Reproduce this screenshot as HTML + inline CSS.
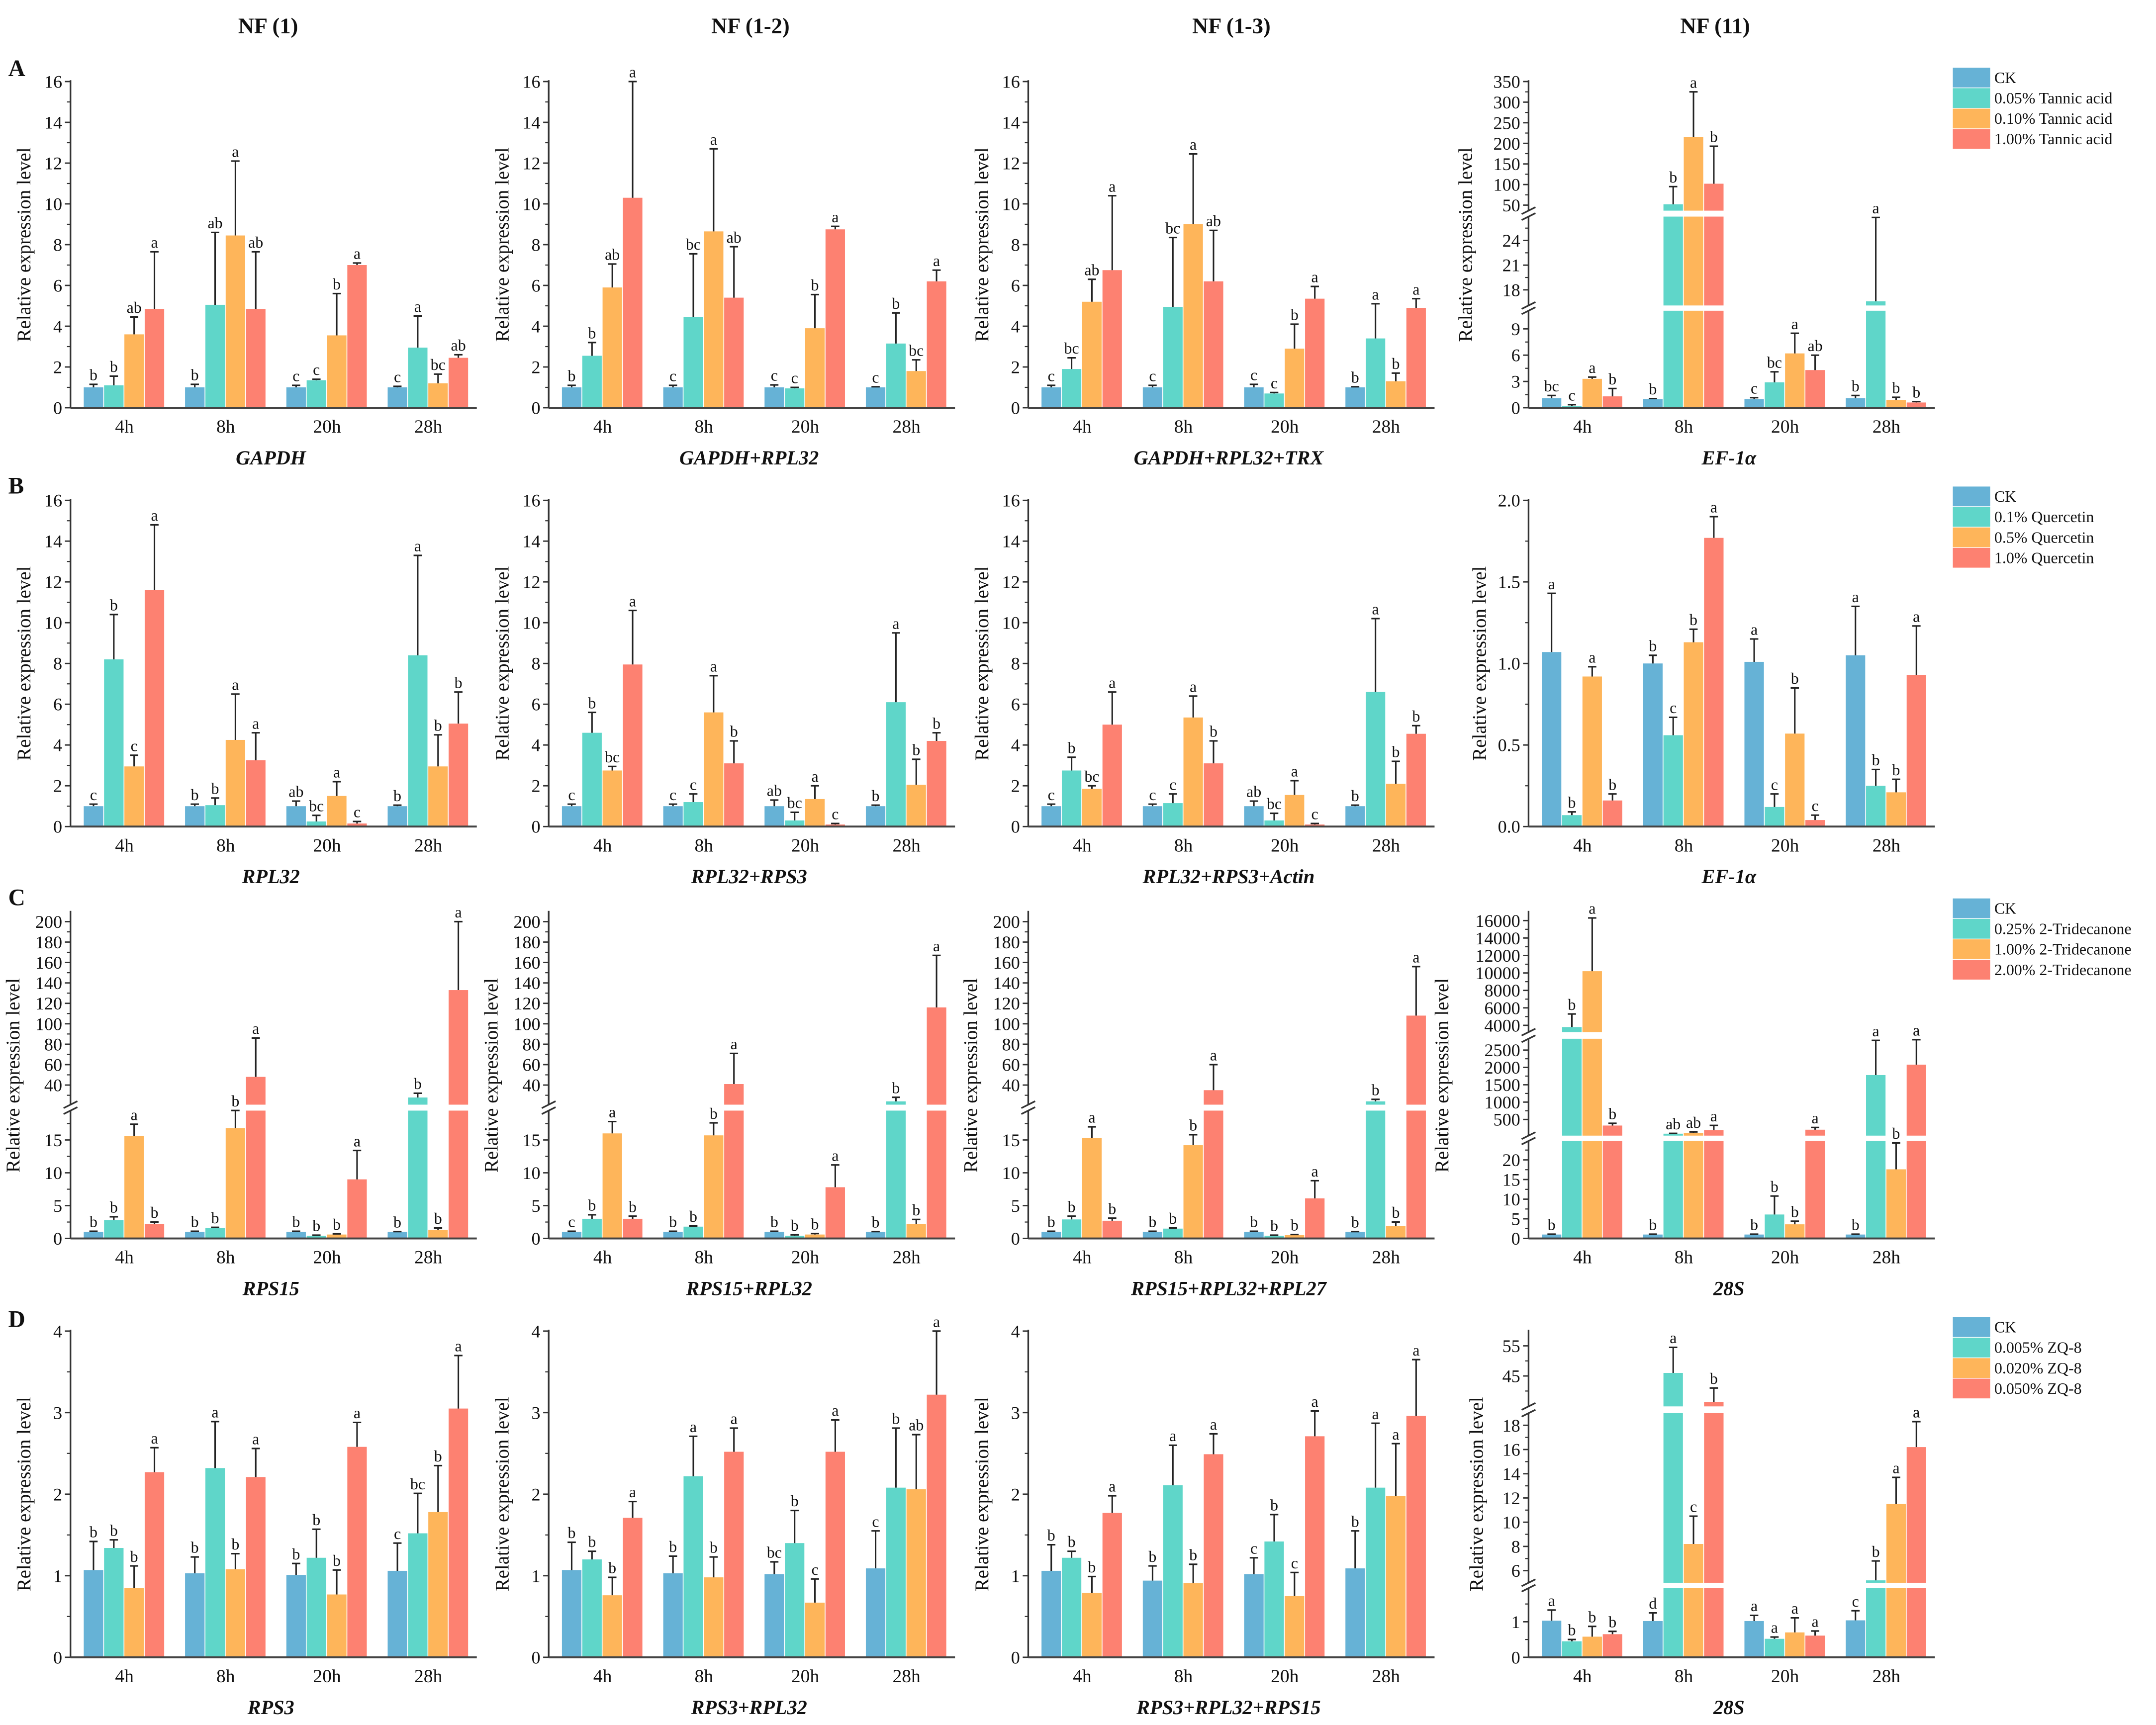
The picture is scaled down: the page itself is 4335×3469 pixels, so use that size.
<!DOCTYPE html>
<html><head><meta charset="utf-8">
<style>
html,body{margin:0;padding:0;background:#fff;}
svg{display:block;}
text{font-family:"Liberation Serif",serif;fill:#111;}
</style></head>
<body>
<svg id="fig" xmlns="http://www.w3.org/2000/svg" width="4335" height="3469" viewBox="0 0 1560 1248" preserveAspectRatio="none">
<rect x="0" y="0" width="1560" height="1248" fill="#fff"/>
<text x="194" y="24" font-size="16" font-weight="bold" text-anchor="middle">NF (1)</text>
<text x="543" y="24" font-size="16" font-weight="bold" text-anchor="middle">NF (1-2)</text>
<text x="891" y="24" font-size="16" font-weight="bold" text-anchor="middle">NF (1-3)</text>
<text x="1241" y="24" font-size="16" font-weight="bold" text-anchor="middle">NF (11)</text>
<text x="6" y="55" font-size="17" font-weight="bold">A</text>
<text x="6" y="357" font-size="17" font-weight="bold">B</text>
<text x="6" y="655" font-size="17" font-weight="bold">C</text>
<text x="6" y="960" font-size="17" font-weight="bold">D</text>
</svg>
<script>
const categories=['4h','8h','20h','28h'];
const colors=['#66b2d6','#5fd6c9','#feb55a','#fd8171'];
const legendA=['CK','0.05% Tannic acid','0.10% Tannic acid','1.00% Tannic acid'];
const legendB=['CK','0.1% Quercetin','0.5% Quercetin','1.0% Quercetin'];
const legendC=['CK','0.25% 2-Tridecanone','1.00% 2-Tridecanone','2.00% 2-Tridecanone'];
const legendD=['CK','0.005% ZQ-8','0.020% ZQ-8','0.050% ZQ-8'];

const a1Mean=[[1.0,1.1,3.6,4.85],[1.0,5.05,8.45,4.85],[1.0,1.35,3.55,7.0],[1.0,2.95,1.2,2.45]];
const a1Sd=[[0.15,0.45,0.85,2.8],[0.15,3.55,3.65,2.8],[0.1,0.05,2.05,0.1],[0.05,1.55,0.45,0.15]];
const a1Sig=[['b','b','ab','a'],['b','ab','a','ab'],['c','c','b','a'],['c','a','bc','ab']];
const a2Mean=[[1.0,2.55,5.9,10.3],[1.0,4.45,8.65,5.4],[1.0,0.95,3.9,8.75],[1.0,3.15,1.8,6.2]];
const a2Sd=[[0.1,0.65,1.15,5.7],[0.1,3.1,4.05,2.5],[0.12,0.05,1.65,0.15],[0.03,1.5,0.55,0.55]];
const a2Sig=[['b','b','ab','a'],['c','bc','a','ab'],['c','c','b','a'],['c','b','bc','a']];
const a3Mean=[[1.0,1.9,5.2,6.75],[1.0,4.95,9.0,6.2],[1.0,0.7,2.9,5.35],[1.0,3.4,1.3,4.9]];
const a3Sd=[[0.1,0.55,1.1,3.65],[0.1,3.4,3.45,2.5],[0.15,0.05,1.2,0.6],[0.03,1.7,0.4,0.45]];
const a3Sig=[['c','bc','ab','a'],['c','bc','a','ab'],['c','c','b','a'],['b','a','b','a']];
const a4Mean=[[1.1,0.2,3.3,1.3],[1.0,52,215,102],[1.0,2.9,6.2,4.3],[1.1,16.6,0.9,0.6]];
const a4Sd=[[0.3,0.15,0.2,0.9],[0.05,43,110,91],[0.15,1.2,2.3,1.7],[0.3,10.2,0.3,0.1]];
const a4Sig=[['bc','c','a','b'],['b','b','a','b'],['c','bc','a','ab'],['b','a','b','b']];

const b1Mean=[[1.0,8.2,2.95,11.6],[1.0,1.05,4.25,3.25],[1.0,0.25,1.5,0.15],[1.0,8.4,2.95,5.05]];
const b1Sd=[[0.1,2.2,0.55,3.2],[0.1,0.35,2.25,1.35],[0.25,0.3,0.7,0.1],[0.05,4.9,1.55,1.55]];
const b1Sig=[['c','b','c','a'],['b','b','a','a'],['ab','bc','a','c'],['b','a','b','b']];
const b2Mean=[[1.0,4.6,2.75,7.95],[1.0,1.2,5.6,3.1],[1.0,0.3,1.35,0.1],[1.0,6.1,2.05,4.2]];
const b2Sd=[[0.1,1.0,0.2,2.65],[0.1,0.4,1.8,1.1],[0.3,0.4,0.65,0.05],[0.05,3.4,1.25,0.4]];
const b2Sig=[['c','b','bc','a'],['c','c','a','b'],['ab','bc','a','c'],['b','a','b','b']];
const b3Mean=[[1.0,2.75,1.85,5.0],[1.0,1.15,5.35,3.1],[1.0,0.3,1.55,0.1],[1.0,6.6,2.1,4.55]];
const b3Sd=[[0.1,0.65,0.15,1.6],[0.1,0.45,1.05,1.1],[0.25,0.35,0.7,0.05],[0.05,3.6,1.1,0.4]];
const b3Sig=[['c','b','bc','a'],['c','c','a','b'],['ab','bc','a','c'],['b','a','b','b']];
const b4Mean=[[1.07,0.07,0.92,0.16],[1.0,0.56,1.13,1.77],[1.01,0.12,0.57,0.04],[1.05,0.25,0.21,0.93]];
const b4Sd=[[0.36,0.02,0.06,0.04],[0.05,0.11,0.08,0.13],[0.14,0.08,0.28,0.03],[0.3,0.1,0.08,0.3]];
const b4Sig=[['a','b','a','b'],['b','c','b','a'],['a','c','b','c'],['a','b','b','a']];

const c1Mean=[[1.0,2.8,15.6,2.2],[1.0,1.6,16.8,48],[1.0,0.4,0.6,9.0],[1.0,27.8,1.3,133]];
const c1Sd=[[0.1,0.5,1.8,0.3],[0.1,0.1,2.7,38],[0.1,0.1,0.1,4.4],[0.05,4.2,0.3,67]];
const c1Sig=[['b','b','a','b'],['b','b','b','a'],['b','b','b','a'],['b','b','b','a']];
const c2Mean=[[1.0,3.0,16.0,3.0],[1.0,1.8,15.7,41],[1.0,0.4,0.6,7.8],[1.0,24,2.2,116]];
const c2Sd=[[0.1,0.6,1.8,0.4],[0.1,0.1,1.9,30],[0.1,0.15,0.15,3.4],[0.05,4,0.7,51]];
const c2Sig=[['c','b','a','b'],['b','b','b','a'],['b','b','b','a'],['b','b','b','a']];
const c3Mean=[[1.0,2.9,15.3,2.7],[1.0,1.5,14.2,35],[1.0,0.4,0.5,6.1],[1.0,24,1.9,108]];
const c3Sd=[[0.1,0.5,1.7,0.4],[0.1,0.1,1.6,25],[0.1,0.1,0.1,2.7],[0.05,2,0.6,48]];
const c3Sig=[['b','b','a','b'],['b','b','b','a'],['b','b','b','a'],['b','b','b','a']];
const c4Mean=[[1.0,3800,10200,325],[1.0,90,115,190],[1.0,6.1,3.6,205],[1.0,1780,17.6,2080]];
const c4Sd=[[0.1,1500,6100,65],[0.1,10,25,140],[0.1,4.7,0.8,65],[0.1,1000,6.7,720]];
const c4Sig=[['b','b','a','b'],['b','ab','ab','a'],['b','b','b','a'],['b','a','b','a']];

const d1Mean=[[1.07,1.34,0.85,2.27],[1.03,2.32,1.08,2.21],[1.01,1.22,0.77,2.58],[1.06,1.52,1.78,3.05]];
const d1Sd=[[0.35,0.1,0.27,0.3],[0.2,0.57,0.19,0.35],[0.14,0.35,0.3,0.3],[0.34,0.49,0.57,0.65]];
const d1Sig=[['b','b','b','a'],['b','a','b','a'],['b','b','b','a'],['c','bc','b','a']];
const d2Mean=[[1.07,1.2,0.76,1.71],[1.03,2.22,0.98,2.52],[1.02,1.4,0.67,2.52],[1.09,2.08,2.06,3.22]];
const d2Sd=[[0.34,0.1,0.22,0.2],[0.21,0.49,0.25,0.29],[0.15,0.4,0.29,0.39],[0.46,0.73,0.67,0.78]];
const d2Sig=[['b','b','b','a'],['b','a','b','a'],['bc','b','c','a'],['c','b','ab','a']];
const d3Mean=[[1.06,1.22,0.79,1.77],[0.94,2.11,0.91,2.49],[1.02,1.42,0.75,2.71],[1.09,2.08,1.98,2.96]];
const d3Sd=[[0.32,0.08,0.2,0.21],[0.18,0.49,0.23,0.25],[0.2,0.33,0.29,0.31],[0.46,0.79,0.64,0.69]];
const d3Sig=[['b','b','b','a'],['b','a','b','a'],['c','b','c','a'],['b','a','a','a']];
const d4Mean=[[1.03,0.45,0.58,0.65],[1.02,46,8.2,36.4],[1.02,0.52,0.7,0.61],[1.04,5.2,11.5,16.2]];
const d4Sd=[[0.3,0.05,0.29,0.08],[0.23,8.5,2.3,4.6],[0.16,0.05,0.41,0.13],[0.27,1.6,2.2,2.1]];
const d4Sig=[['a','b','b','b'],['d','a','c','b'],['a','a','a','a'],['c','b','a','a']];

const ticks16=[0,2,4,6,8,10,12,14,16];
const minor16=[1,3,5,7,9,11,13,15];
const ticks4=[0,1,2,3,4];
const minor4=[0.5,1.5,2.5,3.5];
const ticks2=[0,0.5,1.0,1.5,2.0];
const labels2=['0.0','0.5','1.0','1.5','2.0'];
const minor2=[0.25,0.75,1.25,1.75];
const ticksA4=[0,3,6,9,18,21,24,50,100,150,200,250,300,350];
const minorA4=[1.5,4.5,7.5,19.5,22.5,25.5,75,125,175,225,275,325];
const ticksC=[0,5,10,15,40,60,80,100,120,140,160,180,200];
const minorC=[2.5,7.5,12.5,17.5,30,50,70,90,110,130,150,170,190];
const ticksC4=[0,5,10,15,20,500,1000,1500,2000,2500,4000,6000,8000,10000,12000,14000,16000];
const minorC4=[2.5,7.5,12.5,17.5,22.5,750,1250,1750,2250,5000,7000,9000,11000,13000,15000];
const ticksD4=[0,1,6,8,10,12,14,16,18,45,55];
const minorD4=[0.5,1.5,7,9,11,13,15,17,40,50];

const SVGNS='http://www.w3.org/2000/svg';
const fig=document.getElementById('fig');
function mk(tag,attrs,parent){const e=document.createElementNS(SVGNS,tag);for(const k in attrs)e.setAttribute(k,attrs[k]);(parent||fig).appendChild(e);return e;}

const rowBase=[295,598,896,1199];
const colAxis=[51,397,744,1106];
const PW=294, H=236;
const lin=(v1)=>[{v0:0,v1:v1,p0:0,p1:236}];
const segC=[{v0:0,v1:19.47,p0:0,p1:92.5},{v0:20.8,v1:210,p0:96.8,p1:236.6}];
const segA4=[{v0:0,v1:11.07,p0:0,p1:70.2},{v0:16.1,v1:26.9,p0:74,p1:138.3},{v0:36.6,v1:350,p0:142.6,p1:236}];
const segC4=[{v0:0,v1:24.8,p0:0,p1:70.5},{v0:34,v1:2827,p0:74.4,p1:144.5},{v0:3223,v1:17000,p0:149.3,p1:236.3}];
const segD4=[{v0:0,v1:1.946,p0:0,p1:50},{v0:5.0,v1:19.0,p0:53.9,p1:176.6},{v0:34.9,v1:59.9,p0:181.5,p1:236}];

function scaleOf(segs){
  return function(v){
    for(let i=0;i<segs.length;i++){
      const s=segs[i];
      if(v<=s.v1||i===segs.length-1){
        if(v<s.v0&&i>0){const p=segs[i-1];return p.p1+(v-p.v1)/(s.v0-p.v1)*(s.p0-p.p1);}
        return s.p0+(v-s.v0)/(s.v1-s.v0)*(s.p1-s.p0);
      }
    }
  };
}

const panels=[
 {r:0,c:0,gene:'GAPDH',mean:a1Mean,sd:a1Sd,sig:a1Sig,seg:lin(16),ticks:ticks16,minor:minor16,tOff:29},
 {r:0,c:1,gene:'GAPDH+RPL32',mean:a2Mean,sd:a2Sd,sig:a2Sig,seg:lin(16),ticks:ticks16,minor:minor16,tOff:29},
 {r:0,c:2,gene:'GAPDH+RPL32+TRX',mean:a3Mean,sd:a3Sd,sig:a3Sig,seg:lin(16),ticks:ticks16,minor:minor16,tOff:29},
 {r:0,c:3,gene:'EF-1α',mean:a4Mean,sd:a4Sd,sig:a4Sig,seg:segA4,ticks:ticksA4,minor:minorA4,tOff:41,legend:legendA},
 {r:1,c:0,gene:'RPL32',mean:b1Mean,sd:b1Sd,sig:b1Sig,seg:lin(16),ticks:ticks16,minor:minor16,tOff:29},
 {r:1,c:1,gene:'RPL32+RPS3',mean:b2Mean,sd:b2Sd,sig:b2Sig,seg:lin(16),ticks:ticks16,minor:minor16,tOff:29},
 {r:1,c:2,gene:'RPL32+RPS3+Actin',mean:b3Mean,sd:b3Sd,sig:b3Sig,seg:lin(16),ticks:ticks16,minor:minor16,tOff:29},
 {r:1,c:3,gene:'EF-1α',mean:b4Mean,sd:b4Sd,sig:b4Sig,seg:lin(2),ticks:ticks2,labels:labels2,minor:minor2,tOff:31,legend:legendB},
 {r:2,c:0,gene:'RPS15',mean:c1Mean,sd:c1Sd,sig:c1Sig,seg:segC,ticks:ticksC,minor:minorC,tOff:37},
 {r:2,c:1,gene:'RPS15+RPL32',mean:c2Mean,sd:c2Sd,sig:c2Sig,seg:segC,ticks:ticksC,minor:minorC,tOff:37},
 {r:2,c:2,gene:'RPS15+RPL32+RPL27',mean:c3Mean,sd:c3Sd,sig:c3Sig,seg:segC,ticks:ticksC,minor:minorC,tOff:37},
 {r:2,c:3,gene:'28S',mean:c4Mean,sd:c4Sd,sig:c4Sig,seg:segC4,ticks:ticksC4,minor:minorC4,tOff:58,legend:legendC},
 {r:3,c:0,gene:'RPS3',mean:d1Mean,sd:d1Sd,sig:d1Sig,seg:lin(4),ticks:ticks4,minor:minor4,tOff:29},
 {r:3,c:1,gene:'RPS3+RPL32',mean:d2Mean,sd:d2Sd,sig:d2Sig,seg:lin(4),ticks:ticks4,minor:minor4,tOff:29},
 {r:3,c:2,gene:'RPS3+RPL32+RPS15',mean:d3Mean,sd:d3Sd,sig:d3Sig,seg:lin(4),ticks:ticks4,minor:minor4,tOff:29},
 {r:3,c:3,gene:'28S',mean:d4Mean,sd:d4Sd,sig:d4Sig,seg:segD4,ticks:ticksD4,minor:minorD4,tOff:33,legend:legendD}
];

panels.forEach((P)=>{
  const ax=colAxis[P.c], base=rowBase[P.r];
  const sc=scaleOf(P.seg);
  const y=(v)=>base-sc(v);
  const g=mk('g',{});
  
  
  const gw=73.3, bw=14.7;
  const cx=(i)=>ax+39+gw*i;
  // bars
  categories.forEach((cat,i)=>{
    for(let s=0;s<4;s++){
      const v=P.mean[i][s];
      const x=cx(i)+(s-2)*bw;
      const r=mk('rect',{x:x,y:y(v),width:bw-0.6,height:Math.max(0,base-y(v)),fill:colors[s]},g);
      
      
    }
  });
  // break gaps
  for(let k=0;k<P.seg.length-1;k++){
    const top=base-P.seg[k+1].p0, bot=base-P.seg[k].p1;
    const gp=mk('rect',{x:ax+1,y:top,width:PW-1,height:bot-top,fill:'#fff'},g);
    
    
  }
  // error bars + letters
  categories.forEach((cat,i)=>{
    for(let s=0;s<4;s++){
      const v=P.mean[i][s], e=P.sd[i][s];
      const xm=cx(i)+(s-1.5)*bw-0.3;
      const yt=y(v+e);
      const l=mk('path',{d:`M${xm},${y(v)}V${yt}M${xm-3},${yt}H${xm+3}`,stroke:'#222','stroke-width':1.1,fill:'none'},g);
      
      
      const t=mk('text',{x:xm,y:yt-3,'font-size':11.5,'text-anchor':'middle'},g);
      t.textContent=P.sig[i][s];
      
      
    }
    const xl=mk('text',{x:cx(i),y:base+18,'font-size':13.5,'text-anchor':'middle'},g);
    xl.textContent=cat;
    
    
  });
  // y axis segments
  P.seg.forEach((s,k)=>{
    const top=(k===P.seg.length-1)?base-H-1:base-s.p1;
    const a=mk('line',{x1:ax,y1:base-s.p0,x2:ax,y2:top,stroke:'#333','stroke-width':1.2},g);
    
    
    if(k<P.seg.length-1){
      [base-s.p1,base-P.seg[k+1].p0].forEach(yy=>{
        const b=mk('line',{x1:ax-5,y1:yy+2.5,x2:ax+5,y2:yy-2.5,stroke:'#333','stroke-width':1.2},g);
        
        
      });
    }
  });
  const xa=mk('line',{x1:ax,y1:base,x2:ax+PW,y2:base,stroke:'#444','stroke-width':1.4},g);
  
  
  P.ticks.forEach((v,k)=>{
    const yy=y(v);
    const tk=mk('line',{x1:ax-4,y1:yy,x2:ax,y2:yy,stroke:'#333','stroke-width':1},g);
    
    
    const tl=mk('text',{x:ax-6,y:yy+4.5,'font-size':13,'text-anchor':'end'},g);
    tl.textContent=P.labels?P.labels[k]:String(v);
    
    
  });
  P.minor.forEach(v=>{
    const yy=y(v);
    const tk=mk('line',{x1:ax-2.5,y1:yy,x2:ax,y2:yy,stroke:'#333','stroke-width':0.8},g);
    
    
  });
  const yt=mk('text',{x:0,y:0,'font-size':14,'text-anchor':'middle',transform:`translate(${ax-P.tOff},${base-H/2}) rotate(-90)`},g);
  yt.textContent='Relative expression level';
  
  
  const gt=mk('text',{x:ax+145,y:base+41,'font-size':14.5,'font-weight':'bold','font-style':'italic','text-anchor':'middle'},g);
  gt.textContent=P.gene;
  
  
  if(P.legend){
    const lt=base-246;
    P.legend.forEach((name,s)=>{
      const sw=mk('rect',{x:1413,y:lt+s*14.8,width:27,height:14.3,fill:colors[s]},g);
      
      
      const tx=mk('text',{x:1443,y:lt+s*14.8+11,'font-size':11.5},g);
      tx.textContent=name;
      
      
    });
  }
});
</script>
</body></html>
